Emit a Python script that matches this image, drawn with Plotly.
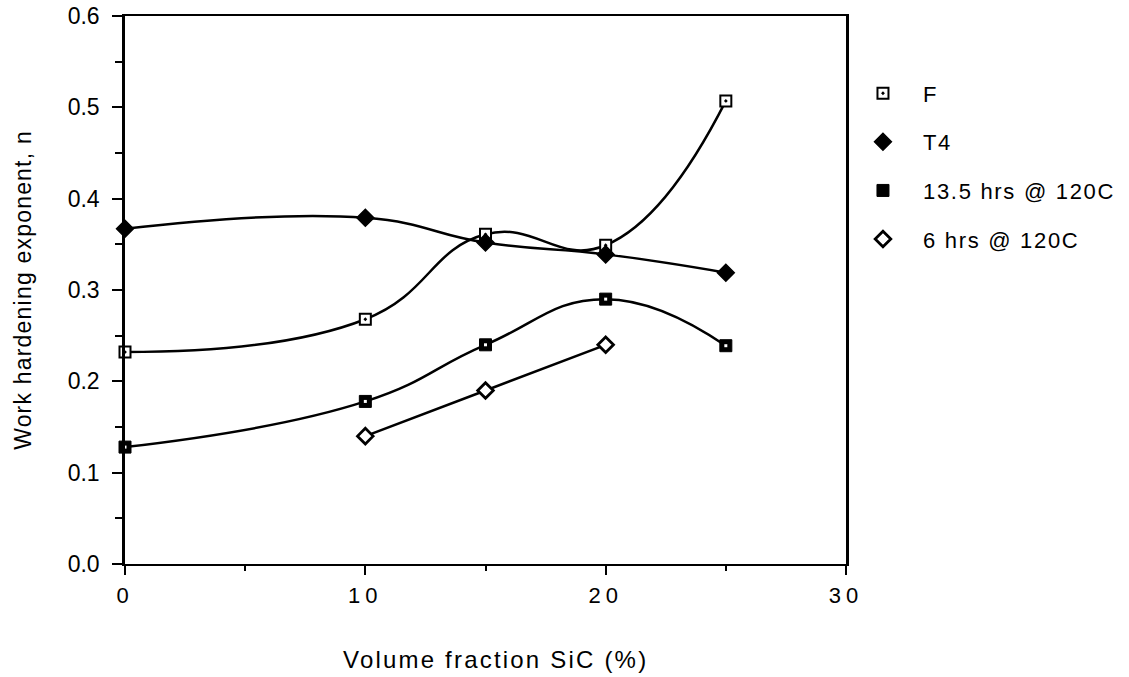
import plotly.graph_objects as go

# Work hardening exponent vs SiC volume fraction for four tempers
x_f = [0, 10, 15, 20, 25]
n_f = [0.232, 0.268, 0.361, 0.349, 0.507]

x_t4 = [0, 10, 15, 20, 25]
n_t4 = [0.367, 0.379, 0.352, 0.339, 0.319]

x_135 = [0, 10, 15, 20, 25]
n_135 = [0.128, 0.178, 0.240, 0.290, 0.239]

x_6 = [10, 15, 20]
n_6 = [0.140, 0.190, 0.240]

names = ["F", "T4", "13.5 hrs @ 120C", "6 hrs @ 120C"]

x_ticks = [0, 10, 20, 30]
x_labels = ["0", "10", "20", "30"]

FONT = "Liberation Sans, Arial, Helvetica, sans-serif"
BLACK = "black"


def spaced(text, px):
    """Wrap text in a span with extra letter spacing."""
    return f'<span style="letter-spacing:{px}px">{text}</span>'


series = [
    (x_f, n_f, dict(symbol="square-dot", size=11, color="white",
                    line=dict(color=BLACK, width=2))),
    (x_t4, n_t4, dict(symbol="diamond", size=13, color=BLACK,
                      line=dict(color=BLACK, width=1.5))),
    (x_135, n_135, dict(symbol="square", size=12, color=BLACK,
                        line=dict(color=BLACK, width=1))),
    (x_6, n_6, dict(symbol="diamond", size=12, color="white",
                    line=dict(color=BLACK, width=2.8))),
]

fig = go.Figure()

# smooth connecting curves (kept out of the legend)
for xs, ys, _ in series:
    fig.add_trace(go.Scatter(
        x=xs, y=ys, mode="lines", showlegend=False, hoverinfo="skip",
        line=dict(color=BLACK, width=2.5, shape="spline", smoothing=1.3),
        cliponaxis=False))

# data markers with legend entries
for i, (xs, ys, mk) in enumerate(series):
    fig.add_trace(go.Scatter(
        x=xs, y=ys, mode="markers", name=spaced(names[i], 1.7),
        marker=mk, legendgroup=f"g{i}", cliponaxis=False))
    if i == 2:
        # white centre dot of the filled squares
        fig.add_trace(go.Scatter(
            x=xs, y=ys, mode="markers", showlegend=False, hoverinfo="skip",
            marker=dict(symbol="square", size=3, color="white",
                        line=dict(width=0)),
            cliponaxis=False))

fig.update_layout(
    width=1129, height=677,
    margin=dict(l=125, r=283, t=16, b=113, autoexpand=False),
    paper_bgcolor="white", plot_bgcolor="white",
    font=dict(family=FONT, size=22, color=BLACK),
    showlegend=True,
    legend=dict(x=0.9958, y=0.897, xanchor="left", yanchor="top",
                font=dict(family=FONT, size=22, color=BLACK),
                itemwidth=70, tracegroupgap=17,
                bgcolor="rgba(0,0,0,0)"),
    annotations=[dict(
        text=spaced("Volume fraction SiC (%)", 2.2),
        xref="paper", yref="paper", x=0.5, y=0, xshift=10, yshift=-95,
        xanchor="center", yanchor="middle", showarrow=False,
        font=dict(family=FONT, size=24, color=BLACK))],
)

fig.update_xaxes(
    range=[0, 30], tickvals=x_ticks,
    ticktext=[spaced(t, 5) for t in x_labels],
    showgrid=False, zeroline=False, automargin=False,
    showline=True, linecolor=BLACK, linewidth=2, mirror=True,
    ticks="outside", ticklen=9, tickwidth=2, tickcolor=BLACK,
    minor=dict(tickvals=[5, 15, 25], ticks="outside", ticklen=5,
               tickwidth=2, tickcolor=BLACK),
    ticklabelstandoff=2,
    tickfont=dict(family=FONT, size=22),
)

fig.update_yaxes(
    range=[0, 0.6], dtick=0.1, tick0=0, tickformat=".1f",
    showgrid=False, zeroline=False, automargin=False,
    showline=True, linecolor=BLACK, linewidth=2.5, mirror=True,
    ticks="outside", ticklen=10, tickwidth=2, tickcolor=BLACK,
    minor=dict(dtick=0.05, ticks="outside", ticklen=7,
               tickwidth=2, tickcolor=BLACK),
    ticklabelstandoff=8,
    tickfont=dict(family=FONT, size=23),
    title=dict(text=spaced("Work hardening exponent, n", 1.2), standoff=30,
               font=dict(family=FONT, size=23)),
)

fig.write_html("out.html")
